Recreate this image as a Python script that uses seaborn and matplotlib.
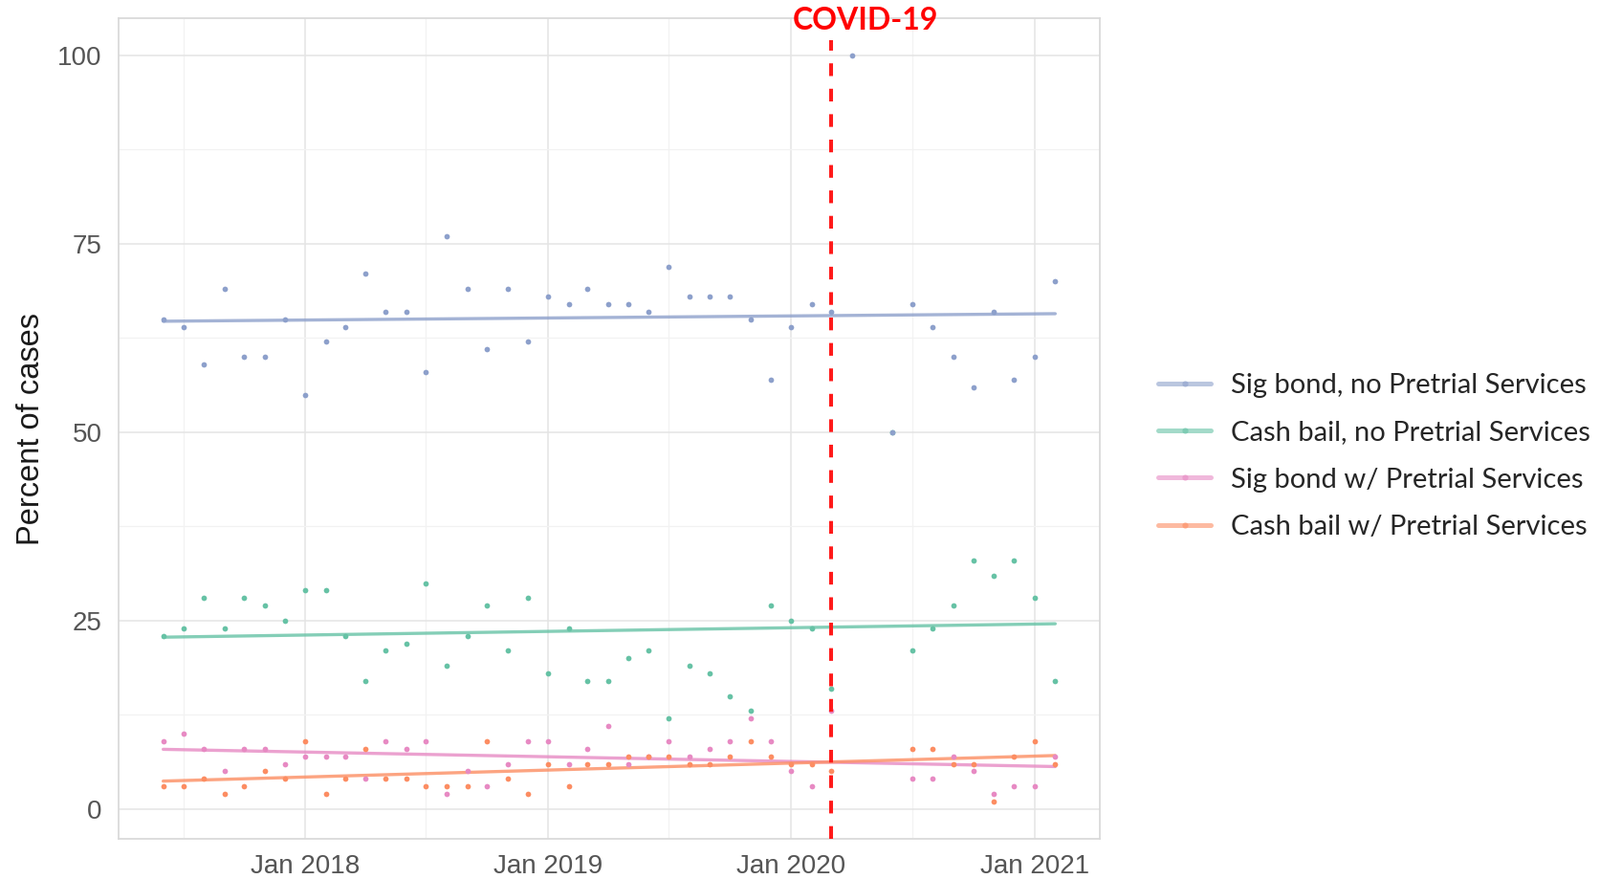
import numpy as np
import pandas as pd
import matplotlib
matplotlib.use("Agg")
import matplotlib.pyplot as plt
import matplotlib.dates as mdates
from matplotlib.lines import Line2D
from matplotlib.ticker import FixedLocator, FixedFormatter
from matplotlib import font_manager
import seaborn as sns

nan = np.nan

# ---------------- data ----------------
start_month = "2017-06-01"
end_month = "2021-02-01"
covid_date = "2020-03-01"
covid_label = "COVID-19"
y_label = "Percent of cases"

series_names = [
    "Sig bond, no Pretrial Services",
    "Cash bail, no Pretrial Services",
    "Sig bond w/ Pretrial Services",
    "Cash bail w/ Pretrial Services",
]
series_colors = ["#8DA0CB", "#66C2A5", "#E78AC3", "#FC8D62"]

#                 2017 (Jun-Dec)                 2018                                       2019                                       2020                                         2021
sig_no_pts = [65, 64, 59, 69, 60, 60, 65,   55, 62, 64, 71, 66, 66, 58, 76, 69, 61, 69, 62,   68, 67, 69, 67, 67, 66, 72, 68, 68, 68, 65, 57,   64, 67, 66, 100, nan, 50, 67, 64, 60, 56, 66, 57,   60, 70]
cash_no_pts = [23, 24, 28, 24, 28, 27, 25,  29, 29, 23, 17, 21, 22, 30, 19, 23, 27, 21, 28,   18, 24, 17, 17, 20, 21, 12, 19, 18, 15, 13, 27,   25, 24, 16, nan, nan, 50, 21, 24, 27, 33, 31, 33,   28, 17]
sig_pts = [9, 10, 8, 5, 8, 8, 6,            7, 7, 7, 4, 9, 8, 9, 2, 5, 3, 6, 9,               9, 6, 8, 11, 6, 7, 9, 7, 8, 9, 12, 9,             5, 3, 13, nan, nan, nan, 4, 4, 7, 5, 2, 3,          3, 7]
cash_pts = [3, 3, 4, 2, 3, 5, 4,            9, 2, 4, 8, 4, 4, 3, 3, 3, 9, 4, 2,               6, 3, 6, 6, 7, 7, 7, 6, 6, 7, 9, 7,               6, 6, 5, nan, nan, nan, 8, 8, 6, 6, 1, 7,           9, 6]

y_ticks = [0, 25, 50, 75, 100]
x_tick_dates = ["2018-01-01", "2019-01-01", "2020-01-01", "2021-01-01"]
x_tick_labels = ["Jan 2018", "Jan 2019", "Jan 2020", "Jan 2021"]
x_minor_dates = ["2017-07-01", "2018-07-01", "2019-07-01", "2020-07-01"]

# ---------------- setup ----------------
sns.set_style("white")
names = {f.name for f in font_manager.fontManager.ttflist}
plt.rcParams["font.family"] = ["Liberation Sans", "DejaVu Sans"]
legend_family = "Lato" if "Lato" in names else "DejaVu Sans"

months = pd.date_range(start_month, end_month, freq="MS")
xnum = mdates.date2num(months)
df = pd.DataFrame({
    "x": xnum,
    series_names[0]: sig_no_pts,
    series_names[1]: cash_no_pts,
    series_names[2]: sig_pts,
    series_names[3]: cash_pts,
})

W, H = 1673, 919
fig = plt.figure(figsize=(W / 100, H / 100), dpi=100)
ax = fig.add_axes([124 / W, 1 - 877 / H, (1150 - 124) / W, (877 - 19) / H])

point_z = [4, 3, 3, 3.1]
for name, col, pz in zip(series_names, series_colors, point_z):
    sns.regplot(data=df, x="x", y=name, ax=ax, ci=None, color=col,
                scatter_kws={"s": 17, "alpha": 1, "linewidths": 0, "zorder": pz},
                line_kws={"lw": 2.4, "alpha": 0.8, "zorder": 2})

# COVID line
cx = mdates.date2num(pd.Timestamp(covid_date))
ax.vlines(cx, -3.95, 102, colors="#FF1A1A", linestyles=(0, (3.3, 3.3)), lw=2.9, zorder=5)
fig.text(905 / W, 1 - 31 / H, covid_label, color="#FF0000", fontsize=23,
         fontweight="bold", family=[legend_family, "DejaVu Sans"], ha="center", va="baseline")

# axes limits
rng = xnum[-1] - xnum[0]
ax.set_xlim(xnum[0] - 0.05 * rng, xnum[-1] + 0.05 * rng)
ax.set_ylim(-3.95, 104.95)

ax.xaxis.set_major_locator(FixedLocator(mdates.date2num(pd.to_datetime(x_tick_dates))))
ax.xaxis.set_major_formatter(FixedFormatter(x_tick_labels))
ax.xaxis.set_minor_locator(FixedLocator(mdates.date2num(pd.to_datetime(x_minor_dates))))
ax.yaxis.set_major_locator(FixedLocator(y_ticks))
ax.yaxis.set_minor_locator(FixedLocator([12.5, 37.5, 62.5, 87.5]))

ax.set_axisbelow(True)
ax.grid(which="major", color="#E4E4E4", lw=1.1)
ax.grid(which="minor", color="#F2F2F2", lw=0.9)

ax.tick_params(which="major", length=5, width=0.9, color="#C8C8C8",
               labelsize=20, labelcolor="#555555")
ax.tick_params(axis="x", pad=6.5)
ax.tick_params(axis="y", pad=7.5)
ax.tick_params(which="minor", length=0)

for s in ax.spines.values():
    s.set_color("#DADADA")
    s.set_linewidth(1.3)
    s.set_visible(True)

ax.set_xlabel("")
ax.set_ylabel("")
fig.text(33 / W, 1 - 448 / H, y_label, rotation=90, ha="center", va="center",
         fontsize=23.5, color="#1A1A1A")

# legend
handles = [Line2D([0], [0], color=c, lw=3.6, alpha=0.6, marker="o", markersize=4.5,
                  markeredgewidth=0) for c in series_colors]
fig.legend(handles, series_names, loc="upper left", bbox_to_anchor=(1211 / W, 1 - 390 / H),
           frameon=False, borderpad=0, borderaxespad=0, handlelength=1.9, handletextpad=0.7,
           labelspacing=0.8, prop={"family": legend_family, "size": 21})

fig.savefig("out.png", dpi=100, facecolor="white")
